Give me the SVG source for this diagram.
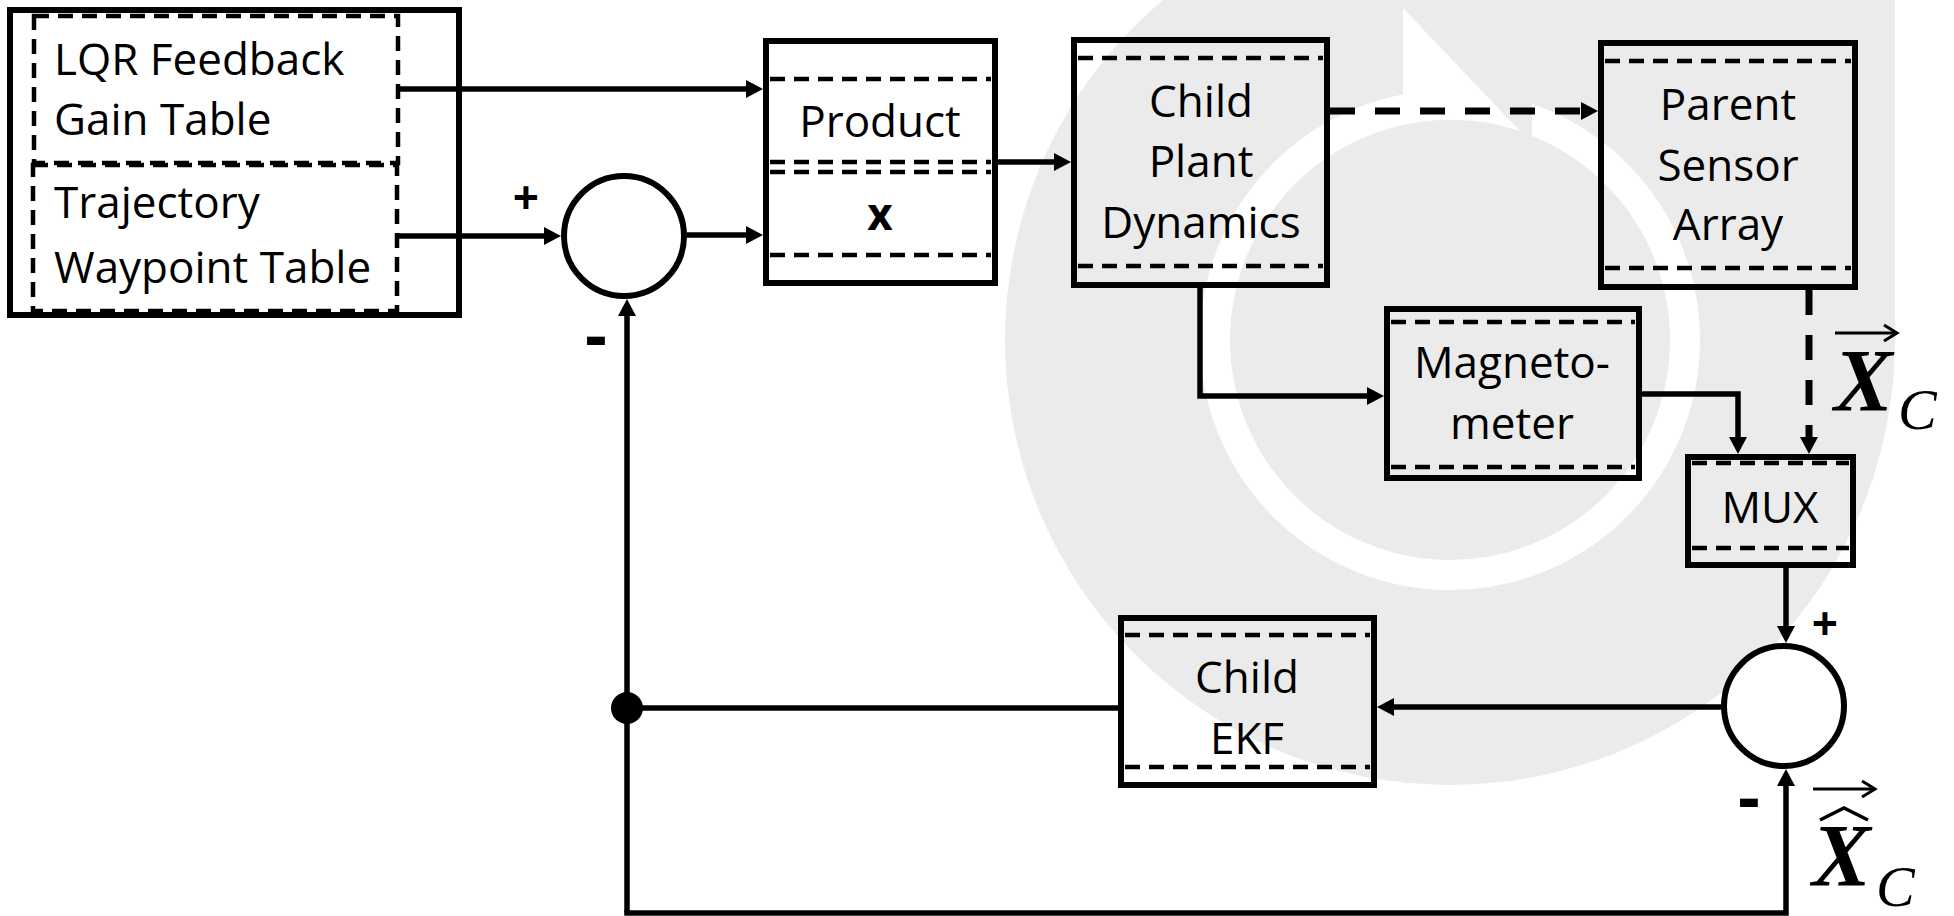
<svg xmlns="http://www.w3.org/2000/svg" width="1954" height="916" viewBox="0 0 1954 916">
<defs>
<style>
.lbl{font-family:"Open Sans","Noto Sans","Liberation Sans",sans-serif;font-size:44px;fill:#000}
.mid{text-anchor:middle}
.bold{font-weight:bold}
.box{fill:none;stroke:#000;stroke-width:6}
.dash{fill:none;stroke:#000;stroke-width:4.5;stroke-dasharray:15 9}
.sum{fill:#fff;stroke:#000;stroke-width:6}
.conn{fill:none;stroke:#000;stroke-width:5.5}
.dconn{fill:none;stroke:#000;stroke-width:7;stroke-dasharray:25 20}
.sign{font-family:"Open Sans","Noto Sans",sans-serif;font-weight:bold;text-anchor:middle;fill:#000}
.mathX{font-family:"Liberation Serif","Times New Roman",serif;font-weight:bold;font-style:italic;font-size:88px;fill:#000}
.mathC{font-family:"Liberation Serif","Times New Roman",serif;font-style:italic;font-size:58px;fill:#000}
.acc{fill:none;stroke:#000;stroke-width:3}
</style>
<marker id="arr" markerUnits="userSpaceOnUse" markerWidth="17" markerHeight="18" viewBox="0 0 17 18" refX="9" refY="9" orient="auto">
<path d="M0,0 L17,9 L0,18 Z" fill="#000"/>
</marker>
</defs>

<g id="watermark">
<path d="M1895,340 V-105 H1450 A445,445 0 1 0 1895,340 Z" fill="#ebebeb"/>
<circle cx="1450" cy="340" r="235" fill="none" stroke="#fff" stroke-width="30"/>
<rect x="1403" y="60" width="129" height="105" fill="#ebebeb"/>
<path d="M1403,8 L1520,131 A220,220 0 0 0 1403,125 Z" fill="#fff"/>
</g>

<g id="connectors">
<path class="conn" d="M398,89 H755" marker-end="url(#arr)"/>
<path class="conn" d="M397,236 H553" marker-end="url(#arr)"/>
<path class="conn" d="M687,235 H755" marker-end="url(#arr)"/>
<path class="conn" d="M995,162 H1063" marker-end="url(#arr)"/>
<path class="dconn" d="M1330,111 H1590" marker-end="url(#arr)"/>
<path class="conn" d="M1200,288 V396 H1376" marker-end="url(#arr)"/>
<path class="conn" d="M1642,394 H1738 V446" marker-end="url(#arr)"/>
<path class="dconn" d="M1809,290 V446" marker-end="url(#arr)"/>
<path class="conn" d="M1786,568 V635" marker-end="url(#arr)"/>
<path class="conn" d="M1721,707 H1385" marker-end="url(#arr)"/>
<path class="conn" d="M1118,708 H627"/>
<path class="conn" d="M627,913 V307" marker-end="url(#arr)"/>
<path class="conn" d="M627,913 H1786 V777" stroke-linecap="square" marker-end="url(#arr)"/>
<circle cx="627" cy="708" r="16" fill="#000"/>
</g>

<g id="gain-tables">
<rect class="box" x="10" y="10" width="449" height="305"/>
<g id="lqr-gain-table">
<rect class="dash" x="34" y="16" width="364" height="147"/>
<text class="lbl" x="54" y="75">LQR Feedback</text>
<text class="lbl" x="54" y="135">Gain Table</text>
</g>
<g id="trajectory-table">
<rect class="dash" x="33" y="165" width="364" height="146"/>
<text class="lbl" x="54" y="218">Trajectory</text>
<text class="lbl" x="54" y="283">Waypoint Table</text>
</g>
</g>

<g id="sum1">
<circle class="sum" cx="624" cy="236" r="60"/>
<text class="sign" x="526" y="214" font-size="46">+</text>
<text class="sign" x="596" y="359" font-size="68">-</text>
</g>

<g id="product">
<rect class="box" x="766" y="41" width="229" height="242"/>
<line class="dash" x1="770" y1="79" x2="991" y2="79"/>
<line class="dash" x1="770" y1="162" x2="991" y2="162"/>
<line class="dash" x1="770" y1="172" x2="991" y2="172"/>
<line class="dash" x1="770" y1="255" x2="991" y2="255"/>
<text class="lbl mid" x="880" y="137">Product</text>
<text class="lbl mid bold" x="880" y="230">x</text>
</g>

<g id="child-plant-dynamics">
<rect class="box" x="1074" y="40" width="253" height="245"/>
<line class="dash" x1="1078" y1="58" x2="1323" y2="58"/>
<line class="dash" x1="1078" y1="266" x2="1323" y2="266"/>
<text class="lbl mid" x="1201" y="117">Child</text>
<text class="lbl mid" x="1201" y="177">Plant</text>
<text class="lbl mid" x="1201" y="238">Dynamics</text>
</g>

<g id="parent-sensor-array">
<rect class="box" x="1601" y="43" width="254" height="244"/>
<line class="dash" x1="1605" y1="61" x2="1851" y2="61"/>
<line class="dash" x1="1605" y1="268" x2="1851" y2="268"/>
<text class="lbl mid" x="1728" y="120">Parent</text>
<text class="lbl mid" x="1728" y="181">Sensor</text>
<text class="lbl mid" x="1728" y="240">Array</text>
</g>

<g id="magnetometer">
<rect class="box" x="1387" y="309" width="252" height="169"/>
<line class="dash" x1="1391" y1="322" x2="1635" y2="322"/>
<line class="dash" x1="1391" y1="467" x2="1635" y2="467"/>
<text class="lbl mid" x="1512" y="378">Magneto-</text>
<text class="lbl mid" x="1512" y="439">meter</text>
</g>

<g id="mux">
<rect class="box" x="1688" y="457" width="165" height="108"/>
<line class="dash" x1="1692" y1="463" x2="1849" y2="463"/>
<line class="dash" x1="1692" y1="548" x2="1849" y2="548"/>
<text class="lbl mid" x="1770" y="523">MUX</text>
</g>

<g id="sum2">
<circle class="sum" cx="1784" cy="706" r="60"/>
<text class="sign" x="1825" y="640" font-size="46">+</text>
<text class="sign" x="1749" y="821" font-size="68">-</text>
</g>

<g id="child-ekf">
<rect class="box" x="1121" y="618" width="253" height="167"/>
<line class="dash" x1="1125" y1="635" x2="1370" y2="635"/>
<line class="dash" x1="1125" y1="767" x2="1370" y2="767"/>
<text class="lbl mid" x="1247" y="693">Child</text>
<text class="lbl mid" x="1247" y="754">EKF</text>
</g>

<g id="label-xc">
<line class="acc" x1="1835" y1="333" x2="1896" y2="333"/>
<polyline class="acc" points="1884,325 1897,333 1884,341"/>
<text class="mathX" x="1834" y="410">X</text>
<text class="mathC" x="1898" y="429">C</text>
</g>

<g id="label-xc-hat">
<line class="acc" x1="1813" y1="789" x2="1874" y2="789"/>
<polyline class="acc" points="1862,781 1875,789 1862,797"/>
<polyline fill="none" stroke="#000" stroke-width="3.5" points="1820,820 1844,808 1868,820"/>
<text class="mathX" x="1812" y="885">X</text>
<text class="mathC" x="1876" y="906">C</text>
</g>
</svg>
